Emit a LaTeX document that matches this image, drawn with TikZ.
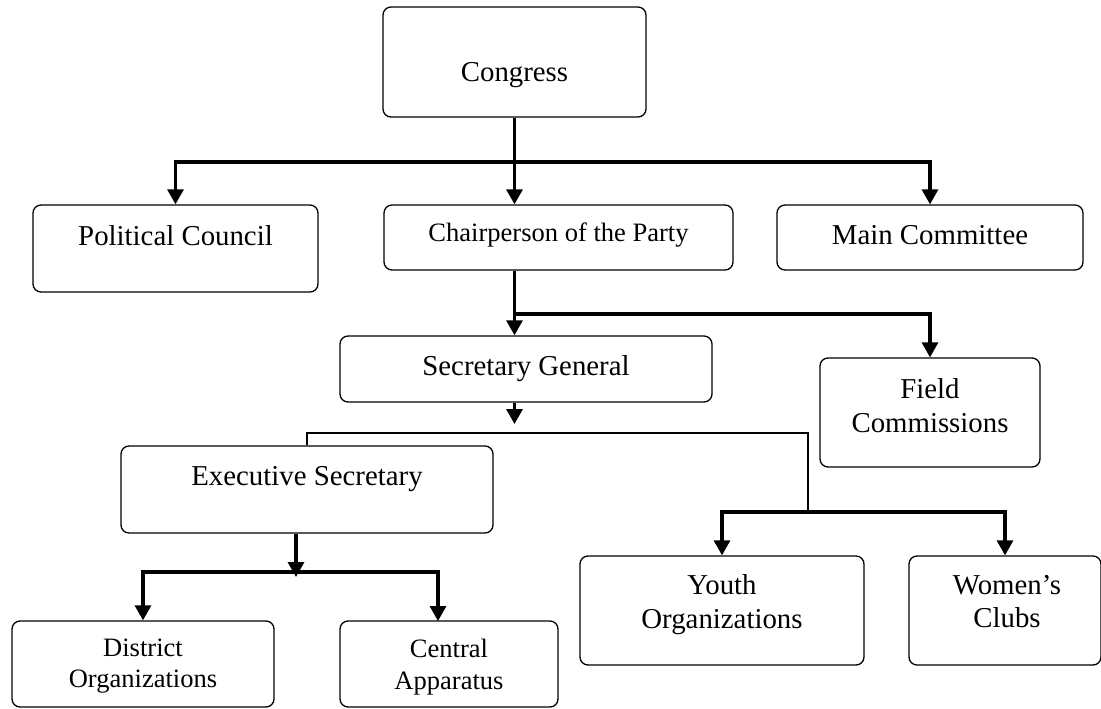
\documentclass[tikz,border=0pt]{standalone}
\usepackage{fontspec}
\setmainfont{Liberation Serif}
\usetikzlibrary{arrows.meta}

\begin{document}
\begin{tikzpicture}[
  >={Triangle[length=0.3cm,width=0.32cm]},
  box/.style={draw, rounded corners=0.16cm, line width=0.75pt, inner sep=0pt},
  big/.style={font=\fontsize{16.4}{19}\selectfont, align=center, inner sep=0pt},
  small/.style={font=\fontsize{15.1}{17.9}\selectfont, align=center, inner sep=0pt},
  link/.style={line width=1.8pt},
  thinlink/.style={line width=0.75pt}
]
\useasboundingbox (0,0) rectangle (22.02,-14.16);

\draw (10.29,-1.24) node (congress) [box, minimum width=5.26cm, minimum height=2.2cm] {};
\draw (10.29,-1.63) node (congresstxt) [big, anchor=base] {Congress};

\draw (3.51,-4.97)  node (council) [box, minimum width=5.7cm, minimum height=1.74cm] {};
\draw (3.51,-4.90)  node (counciltxt) [big, anchor=base] {Political Council};

\draw (11.17,-4.75) node (chair) [box, minimum width=6.98cm, minimum height=1.3cm] {};
\draw (11.17,-4.82) node (chairtxt) [small, anchor=base] {Chairperson of the Party};

\draw (18.6,-4.75)  node (committee) [box, minimum width=6.12cm, minimum height=1.3cm] {};
\draw (18.6,-4.88)  node (committeetxt) [big, anchor=base] {Main Committee};

\draw (10.52,-7.38) node (secgen) [box, minimum width=7.44cm, minimum height=1.32cm] {};
\draw (10.52,-7.50) node (secgentxt) [big, anchor=base] {Secretary General};

\draw (18.6,-8.25)  node (field) [box, minimum width=4.4cm, minimum height=2.18cm] {};
\draw (18.6,-8.11)  node (fieldtxt) [big] {Field\\Commissions};

\draw (6.14,-9.79)  node (exec) [box, minimum width=7.44cm, minimum height=1.74cm] {};
\draw (6.14,-9.70)  node (exectxt) [big, anchor=base] {Executive Secretary};

\draw (14.44,-12.21) node (youth) [box, minimum width=5.68cm, minimum height=2.18cm] {};
\draw (14.44,-12.09) node (youthtxt) [big] {Youth\\Organizations};

\draw (20.1,-12.21)  node (women) [box, minimum width=3.84cm, minimum height=2.18cm] {};
\draw (20.14,-12.03) node (womentxt) [big] {Women’s\\Clubs};

\draw (2.86,-13.28) node (district) [box, minimum width=5.24cm, minimum height=1.72cm] {};
\draw (2.86,-13.32) node (districttxt) [small] {District\\Organizations};

\draw (8.98,-13.28) node (central) [box, minimum width=4.36cm, minimum height=1.72cm] {};
\draw (8.98,-13.34) node (centraltxt) [small] {Central\\Apparatus};

% junctions
\coordinate (b1) at (10.29,-3.24);
\coordinate (b2) at (10.29,-6.28);
\coordinate (sgtip) at (10.29,-8.48);
\coordinate (b3) at (16.16,-8.66);
\coordinate (b4) at (16.16,-10.24);
\coordinate (b5) at (5.92,-11.44);
\coordinate (estip) at (5.92,-11.54);
\coordinate (capin) at (8.76,-12.42);

\draw[link,->] (congress) -- (congress.south |- chair.north);
\draw[link,<->] (council.north) |- (b1) -| (committee.north);

\draw[link,->] (congress.south |- chair.south) -- (congress.south |- secgen.north);
\draw[link,->] (b2) -| (field.north);

\draw[link,->] (secgen.south -| sgtip) -- (sgtip);
\draw[thinlink] (exec.north) |- (b3) -- (b4);
\draw[link,<->] (youth.north) |- (b4) -| (women.north);

\draw[link,->] (exec.south -| b5) -- (estip);
\draw[link,<->] (district.north) |- (b5) -| (capin);
\end{tikzpicture}
\end{document}
